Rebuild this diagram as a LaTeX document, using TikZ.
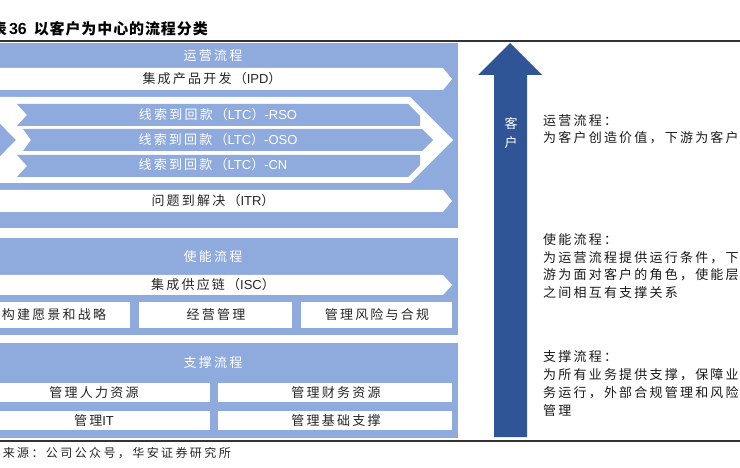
\documentclass[tikz,border=0pt]{standalone}
\usepackage{fontspec}
\setmainfont{Noto Sans CJK SC}
\newfontfamily\zh[LetterSpace=17]{Noto Sans CJK SC}
\newfontfamily\zhs[LetterSpace=20]{Noto Sans CJK SC}
\newfontfamily\zht[LetterSpace=6]{Noto Sans CJK SC}
\newfontfamily\lat{Liberation Sans}
\newcommand{\la}[1]{{\lat #1}}
\definecolor{pblue}{HTML}{8FAADC}
\definecolor{dblue}{HTML}{2F5597}
\definecolor{txtc}{HTML}{262626}
\definecolor{rulec}{HTML}{333333}
\tikzset{
  panel/.style={fill=pblue, draw=none},
  wrow/.style={fill=white, draw=none},
  barrow/.style={fill=pblue, draw=none},
  bigarrow/.style={fill=dblue, draw=none},
  rulel/.style={draw=rulec, line width=1.3pt},
  btxt/.style={font=\zh\fontsize{13}{15}\selectfont, text=txtc, inner sep=0pt},
  wtxt/.style={font=\zh\fontsize{13}{15}\selectfont, text=white, inner sep=0pt},
  rtxt/.style={font=\zh\fontsize{13}{15}\selectfont, text=black!90, inner sep=0pt, anchor=west},
  titletxt/.style={font=\zht\bfseries\fontsize{15}{17}\selectfont, text=black, inner sep=0pt},
  srctxt/.style={font=\zhs\fontsize{12}{14}\selectfont, text=black!85, inner sep=0pt}
}
\begin{document}
\begin{tikzpicture}[x=1pt,y=-1pt]
\clip (0,0) rectangle (740,468);
\fill[white] (0,0) rectangle (740,468);

% title and rules
\node[titletxt, anchor=base east] (title) at (208,35) {图表\hspace{2pt}{\lat\bfseries\fontsize{16}{17}\selectfont 36}\hspace{7pt}以客户为中心的流程分类};
\coordinate (r1a) at (0,41); \coordinate (r1b) at (740,41);
\coordinate (r2a) at (0,441); \coordinate (r2b) at (740,441);
\draw[rulel] (r1a) -- (r1b);
\draw[rulel] (r2a) -- (r2b);
\node[srctxt, anchor=base east] (src) at (231,457) {资料来源：公司公众号，华安证券研究所};

% ---------- panel 1: 运营流程 ----------
\fill[panel] (-32,43) rectangle (458,228);
\node[wtxt] (p1t) at (213,56) {运营流程};
\fill[wrow] (-26,68) -- (443,68) -- (452,79) -- (443,90) -- (-26,90) -- cycle;
\node[btxt] (ipd) at (212,79) {集成产品开发（\la{IPD}）};
% big white chevron
\fill[wrow] (-26,97) -- (410,97) -- (453,140) -- (410,183) -- (-26,183) -- (16,140) -- cycle;
% three blue chevrons
\fill[barrow] (17,104) -- (408,104) -- (420,116) -- (420,126) -- (17,126) -- (27,115) -- cycle;
\fill[barrow] (23,129) -- (422,129) -- (433,140) -- (422,151) -- (23,151) -- (31,140) -- cycle;
\fill[barrow] (17,155) -- (420,155) -- (420,165) -- (408,177) -- (17,177) -- (27,166) -- cycle;
\node[wtxt] (rso) at (218,115) {线索到回款（\la{LTC}）\la{-RSO}};
\node[wtxt] (oso) at (218,140) {线索到回款（\la{LTC}）\la{-OSO}};
\node[wtxt] (cn) at (213,165) {线索到回款（\la{LTC}）\la{-CN}};
\fill[wrow] (-26,190) -- (443,190) -- (452,201) -- (443,212) -- (-26,212) -- cycle;
\node[btxt] (itr) at (213,201) {问题到解决（\la{ITR}）};

% ---------- panel 2: 使能流程 ----------
\fill[panel] (-32,238) rectangle (458,335);
\node[wtxt] (p2t) at (213,257) {使能流程};
\fill[wrow] (-26,275) -- (443,275) -- (452,285) -- (443,295) -- (-26,295) -- cycle;
\node[btxt] (isc) at (213,285) {集成供应链（\la{ISC}）};
\fill[wrow] (-23,302) rectangle (130,328);
\fill[wrow] (139,302) rectangle (292,328);
\fill[wrow] (301,302) rectangle (452,328);
\node[btxt] (b1) at (54,315) {构建愿景和战略};
\node[btxt] (b2) at (216,315) {经营管理};
\node[btxt] (b3) at (377,315) {管理风险与合规};

% ---------- panel 3: 支撑流程 ----------
\fill[panel] (-32,343) rectangle (458,438);
\node[wtxt] (p3t) at (213,363) {支撑流程};
\fill[wrow] (-24,383) rectangle (210,402);
\fill[wrow] (218,383) rectangle (452,402);
\fill[wrow] (-24,411) rectangle (210,430);
\fill[wrow] (218,411) rectangle (452,430);
\node[btxt] (s1) at (94,392.5) {管理人力资源};
\node[btxt] (s2) at (336,392.5) {管理财务资源};
\node[btxt] (s3) at (94,420.5) {管理\la{IT}};
\node[btxt] (s4) at (336,420.5) {管理基础支撑};

% ---------- big arrow ----------
\fill[bigarrow] (494,437) -- (494,75) -- (478,75) -- (510,43) -- (542,75) -- (527,75) -- (527,437) -- cycle;
\node[wtxt] (k1) at (511,123) {客};
\node[wtxt] (k2) at (511,143) {户};

% ---------- right texts ----------
\node[rtxt] (a1) at (543,121) {运营流程：};
\node[rtxt] (a2) at (543,137.5) {为客户创造价值，下游为客户};
\node[rtxt] (e1) at (543,240) {使能流程：};
\node[rtxt] (e2) at (543,257.5) {为运营流程提供运行条件，下};
\node[rtxt] (e3) at (543,275) {游为面对客户的角色，使能层};
\node[rtxt] (e4) at (543,292.5) {之间相互有支撑关系};
\node[rtxt] (f1) at (543,357) {支撑流程：};
\node[rtxt] (f2) at (543,375) {为所有业务提供支撑，保障业};
\node[rtxt] (f3) at (543,393) {务运行，外部合规管理和风险};
\node[rtxt] (f4) at (543,411) {管理};
\end{tikzpicture}
\end{document}
